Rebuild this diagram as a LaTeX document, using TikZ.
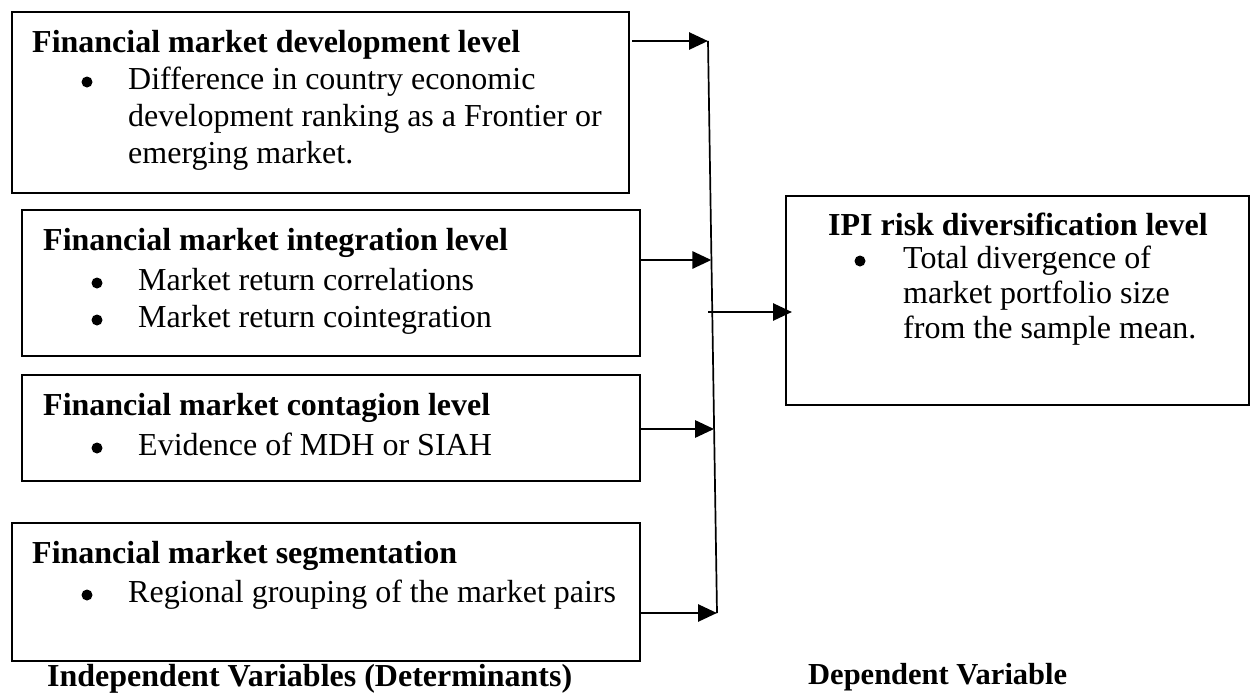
\documentclass[tikz,border=0pt]{standalone}
\usepackage{fontspec}
\setmainfont{Liberation Serif}
\usetikzlibrary{arrows.meta}
\begin{document}
\begin{tikzpicture}[x=1pt,y=-1pt,
  every node/.style={font=\fontsize{32}{37}\selectfont},
  varbox/.style={draw=black, line width=1.3pt, anchor=north west, inner sep=0pt, outer sep=0pt},
  heading/.style={anchor=base west, inner sep=0pt, font=\fontsize{32}{37}\selectfont\bfseries},
  itemtext/.style={anchor=base west, inner sep=0pt},
  dot/.style={circle, fill=black, inner sep=0pt, minimum size=11pt},
  feed/.style={line width=2.8pt, -{Triangle[length=19pt,width=17pt]}},
  trunk/.style={line width=1.7pt}]
\useasboundingbox (0,0) rectangle (1254,694);

% determinant boxes
\node[varbox, minimum width=617pt, minimum height=181pt] (dev) at (12,12) {};
\node[varbox, minimum width=618pt, minimum height=146pt] (int) at (22,210) {};
\node[varbox, minimum width=618pt, minimum height=106pt] (con) at (22,375) {};
\node[varbox, minimum width=628pt, minimum height=138pt] (seg) at (12,523) {};
% dependent variable box
\node[varbox, minimum width=463pt, minimum height=209pt] (ipi) at (786,196) {};

% development level
\node[heading] (devT) at (32,52) {Financial market development level};
\node[dot] (devB) at (87,82) {};
\node[itemtext] (devL1) at (128,89) {Difference in country economic};
\node[itemtext] (devL2) at (128,126) {development ranking as a Frontier or};
\node[itemtext] (devL3) at (128,163) {emerging market.};

% integration level
\node[heading] (intT) at (43,250) {Financial market integration level};
\node[dot] (intB1) at (97,283) {};
\node[itemtext] (intL1) at (138,290) {Market return correlations};
\node[dot] (intB2) at (97,320) {};
\node[itemtext] (intL2) at (138,327) {Market return cointegration};

% contagion level
\node[heading] (conT) at (43,415) {Financial market contagion level};
\node[dot] (conB) at (97,448) {};
\node[itemtext] (conL1) at (138,455) {Evidence of MDH or SIAH};

% segmentation
\node[heading] (segT) at (32,563) {Financial market segmentation};
\node[dot] (segB) at (87,595) {};
\node[itemtext] (segL1) at (128,602) {Regional grouping of the market pairs};

% IPI risk diversification
\node[heading] (ipiT) at (828,235) {IPI risk diversification level};
\node[dot] (ipiB) at (860,261) {};
\node[itemtext] (ipiL1) at (903,268) {Total divergence of};
\node[itemtext] (ipiL2) at (903,303) {market portfolio size};
\node[itemtext] (ipiL3) at (903,338) {from the sample mean.};

% column captions
\node[heading] (indep) at (47,686) {Independent Variables (Determinants)};
\node[heading, font=\fontsize{30.5}{36}\selectfont\bfseries] (depen) at (808,684) {Dependent Variable};

% collecting line and arrows
\coordinate (top) at (708,41);
\coordinate (bot) at (717,613);
\coordinate (jInt) at (711.4,260);
\coordinate (jCon) at (714.1,429);
\coordinate (src) at (708,312);
\draw[trunk] (top) -- (bot);
\draw[feed] ([xshift=3pt]dev.east |- top) -- (top);
\draw[feed] (int.east |- jInt) -- (jInt);
\draw[feed] (con.east |- jCon) -- (jCon);
\draw[feed] (seg.east |- bot) -- (bot);
\draw[feed] (src) -- ([xshift=6pt]ipi.west |- src);
\end{tikzpicture}
\end{document}
